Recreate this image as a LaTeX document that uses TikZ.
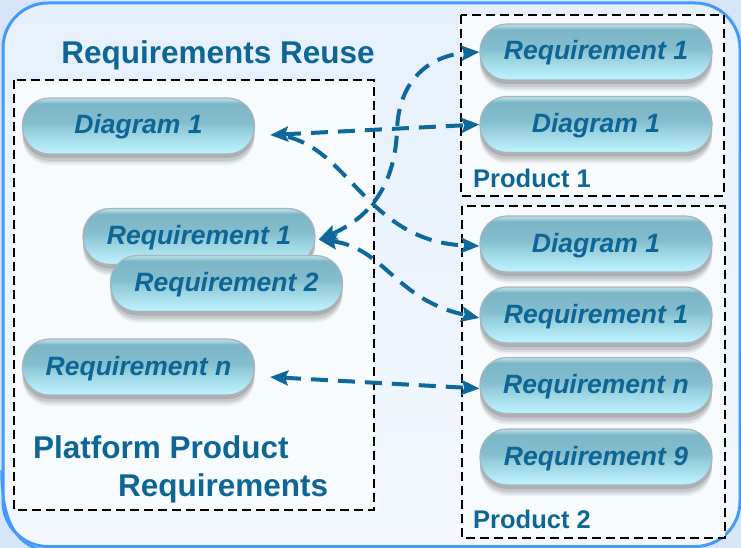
\documentclass[tikz,border=0pt]{standalone}
\usepackage{fontspec}
\setmainfont{Liberation Sans}
\usetikzlibrary{arrows.meta,shadows}
\definecolor{txtblue}{RGB}{14,102,150}
\definecolor{arrblue}{RGB}{14,104,154}
\definecolor{framebl}{RGB}{68,153,250}
\definecolor{bgout}{RGB}{214,230,248}
\definecolor{bginA}{RGB}{230,240,251}
\definecolor{bginB}{RGB}{243,247,253}
\definecolor{boxfill}{RGB}{248,251,254}
\definecolor{pillborder}{RGB}{170,180,186}
\definecolor{pa}{RGB}{192,243,254}
\definecolor{pb}{RGB}{180,234,247}
\definecolor{pc}{RGB}{152,208,222}
\definecolor{pd}{RGB}{132,190,206}
\definecolor{pe}{RGB}{123,181,198}
\definecolor{pf}{RGB}{165,212,224}
\definecolor{pg}{RGB}{190,221,229}
\pgfdeclareverticalshading{pillshade}{100bp}{color(0bp)=(pa); color(25bp)=(pa); color(31bp)=(pb); color(45bp)=(pc); color(53bp)=(pd); color(70bp)=(pe); color(73bp)=(pf); color(75bp)=(pg); color(100bp)=(pg)}
\tikzset{
  pill/.style={rectangle, rounded corners=27pt, minimum width=232pt, minimum height=56pt,
    inner sep=0pt, draw=pillborder, line width=1.2pt, shading=pillshade, text=txtblue,
    text height=19pt, text depth=3pt,
    font=\fontsize{26.5pt}{30pt}\selectfont\bfseries\itshape,
    general shadow={fill=black, opacity=0.05, shadow yshift=-11pt},
    general shadow={fill=black, opacity=0.07, shadow yshift=-9pt},
    general shadow={fill=black, opacity=0.09, shadow yshift=-7pt},
    general shadow={fill=black, opacity=0.12, shadow yshift=-4pt}},
  dbox/.style={draw=black, line width=2pt, dash pattern=on 9pt off 5pt, fill=boxfill},
  conn/.style={draw=arrblue, line width=4pt, dash pattern=on 17pt off 10pt},
  >={Stealth[length=18pt,width=15pt,inset=3pt]},
  title/.style={text=txtblue, font=\fontsize{31.5pt}{36pt}\selectfont\bfseries, inner sep=0pt},
  plabel/.style={text=txtblue, font=\fontsize{25.5pt}{30pt}\selectfont\bfseries, inner sep=0pt}
}
\begin{document}
\begin{tikzpicture}[x=1pt,y=-1pt]
\useasboundingbox (0,0) rectangle (741,548);
\fill[bgout] (0,0) rectangle (741,548);
\draw[framebl, line width=3pt, rounded corners=45pt, top color=bginA, bottom color=bginB] (3,3) rectangle (740,546.5);
\draw[framebl, line width=2.5pt] (1.5,470) .. controls (1.5,525) and (20,548) .. (45,550);
% dashed boxes
\draw[dbox] (14,80) rectangle (374,510);
\draw[dbox] (461,15) rectangle (724,196);
\draw[dbox] (462,206) rectangle (725,538);
% titles
\node[title, anchor=base] (ttl) at (218,64) {Requirements Reuse};
\node[title, anchor=base west] (pp1) at (33,458) {Platform Product};
\node[title, anchor=base west] (pp2) at (118,496) {Requirements};
\node[plabel, anchor=base west] (lp1) at (473,188) {Product 1};
\node[plabel, anchor=base west] (lp2) at (473,528) {Product 2};
% left pills
\node[pill] (dl) at (138.5,126) {Diagram 1};
\node[pill] (r1) at (199,236.5) {Requirement 1};
\node[pill] (r2) at (226.5,283.5) {Requirement 2};
\node[pill] (rn) at (138.5,367) {Requirement n};
% product 1 pills
\node[pill] (p1r) at (596,52) {Requirement 1};
\node[pill] (p1d) at (596,124.5) {Diagram 1};
% product 2 pills
\node[pill] (p2d) at (596,244) {Diagram 1};
\node[pill] (p2r) at (596,315) {Requirement 1};
\node[pill] (p2n) at (596,385.5) {Requirement n};
\node[pill] (p2g) at (596,457) {Requirement 9};
% connectors
\draw[conn,<->] ([shift={(15,9)}]dl.east) -- (p1d.west);
\draw[conn,->] ([shift={(33,11)}]dl.east) .. controls (350,152) and (370,242) .. ([yshift=-2pt]p2d.west);
\draw[conn,<->] ([shift={(3,3)}]r1.east) .. controls (365,220) and (395,190) .. (397,130) .. controls (399,75) and (435,55) .. (p1r.west);
\draw[conn,<->] ([shift={(3,3)}]r1.east) .. controls (385,248) and (395,300) .. ([yshift=-3pt]p2r.west);
\draw[conn,<->] ([shift={(15,10)}]rn.east) -- ([yshift=-3pt]p2n.west);
\end{tikzpicture}
\end{document}
